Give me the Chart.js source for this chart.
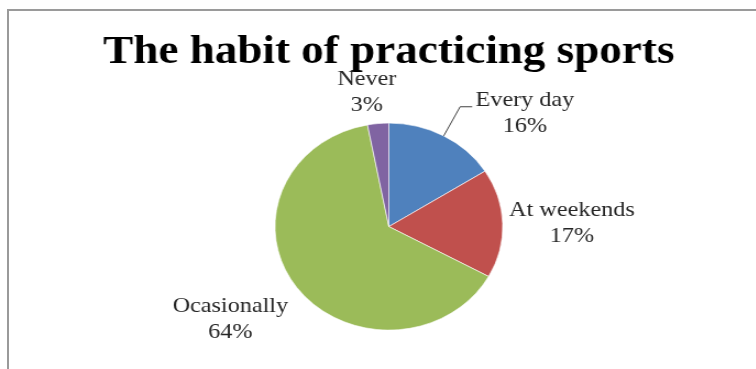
<!DOCTYPE html>
<html>
<head>
<meta charset="utf-8">
<script src="https://cdn.jsdelivr.net/npm/chart.js@4"></script>
<style>
    html, body { margin: 0; padding: 0; background: #fff; }
    #quadro { position: relative; width: 756px; height: 369px; overflow: hidden; }
    #moldura {
        position: absolute; left: 7px; top: 9px; right: -10px; bottom: -10px;
        border-top: 2px solid #9a9a9a; border-left: 2px solid #9a9a9a;
        pointer-events: none;
    }
    /* o desenho original é um pouco mais largo que alto */
    #habito-esportes { position: absolute; left: 0; top: 0; transform: scaleX(1.1); transform-origin: 0 0; }
</style>
</head>
<body>
<div id="quadro">
    <canvas id="habito-esportes" width="687" height="369"></canvas>
    <div id="moldura"></div>
</div>
<script>
const categorias = ['Every day', 'At weekends', 'Ocasionally', 'Never'];
const percentuais = [16, 17, 64, 3];
const cores = ['#4F81BD', '#C0504D', '#9BBB59', '#8064A2'];

// posição de cada rótulo em relação ao centro, em múltiplos do raio
const posicaoRotulos = [
    { dx: 1.195, dy: -1.10, guia: true },
    { dx: 1.608, dy: -0.037 },
    { dx: -1.392, dy: 0.894 },
    { dx: -0.193, dy: -1.30 }
];

document.addEventListener('DOMContentLoaded', function(){
    montarGrafico();
});

const rotulosPizza = {
    id: 'rotulosPizza',
    afterDatasetsDraw(chart) {
        const ctx = chart.ctx;
        const arcos = chart.getDatasetMeta(0).data;
        const valores = chart.data.datasets[0].data;
        const total = valores.reduce((a, b) => a + b, 0);
        ctx.save();
        ctx.font = '22px "Liberation Serif", "Times New Roman", serif';
        ctx.textAlign = 'center';
        ctx.textBaseline = 'middle';
        arcos.forEach((arco, i) => {
            const { x, y, startAngle, endAngle, outerRadius } =
                arco.getProps(['x', 'y', 'startAngle', 'endAngle', 'outerRadius'], true);
            const pos = posicaoRotulos[i];
            const cx = x + pos.dx * outerRadius;
            const cy = y + pos.dy * outerRadius;
            const nome = chart.data.labels[i];
            const pct = Math.round(valores[i] / total * 100) + '%';
            ctx.fillStyle = '#262626';
            ctx.fillText(nome, cx, cy - 13);
            ctx.fillText(pct, cx, cy + 13);
            if (pos.guia) {
                const meio = (startAngle + endAngle) / 2;
                const esquerda = cx - ctx.measureText(nome).width / 2;
                const yLinha = cy - 6;
                ctx.strokeStyle = '#404040';
                ctx.lineWidth = 1;
                ctx.beginPath();
                ctx.moveTo(x + Math.cos(meio) * outerRadius, y + Math.sin(meio) * outerRadius);
                ctx.lineTo(esquerda - 14, yLinha);
                ctx.lineTo(esquerda - 3, yLinha);
                ctx.stroke();
            }
        });
        ctx.restore();
    }
};

function montarGrafico() {
    const ctx = document.getElementById('habito-esportes');
    new Chart(ctx, {
        type: 'pie',
        data: {
            labels: categorias,
            datasets: [
                {
                    data: percentuais,
                    backgroundColor: cores,
                    borderColor: 'rgba(255,255,255,0.6)',
                    borderWidth: 1,
                    radius: 103.5
                }
            ]
        },
        options: {
            responsive: false,
            animation: false,
            devicePixelRatio: 1,
            layout: {
                padding: { left: 20, right: 0, top: 0, bottom: 3 }
            },
            plugins: {
                legend: { display: false },
                tooltip: { enabled: false },
                title: {
                    display: true,
                    text: 'The habit of practicing sports',
                    color: '#000',
                    font: { family: '"Liberation Serif", "Times New Roman", serif', size: 41, weight: 'bold', lineHeight: 1.2 },
                    padding: { top: 28, bottom: 10 }
                }
            }
        },
        plugins: [rotulosPizza]
    });
}
</script>
</body>
</html>
